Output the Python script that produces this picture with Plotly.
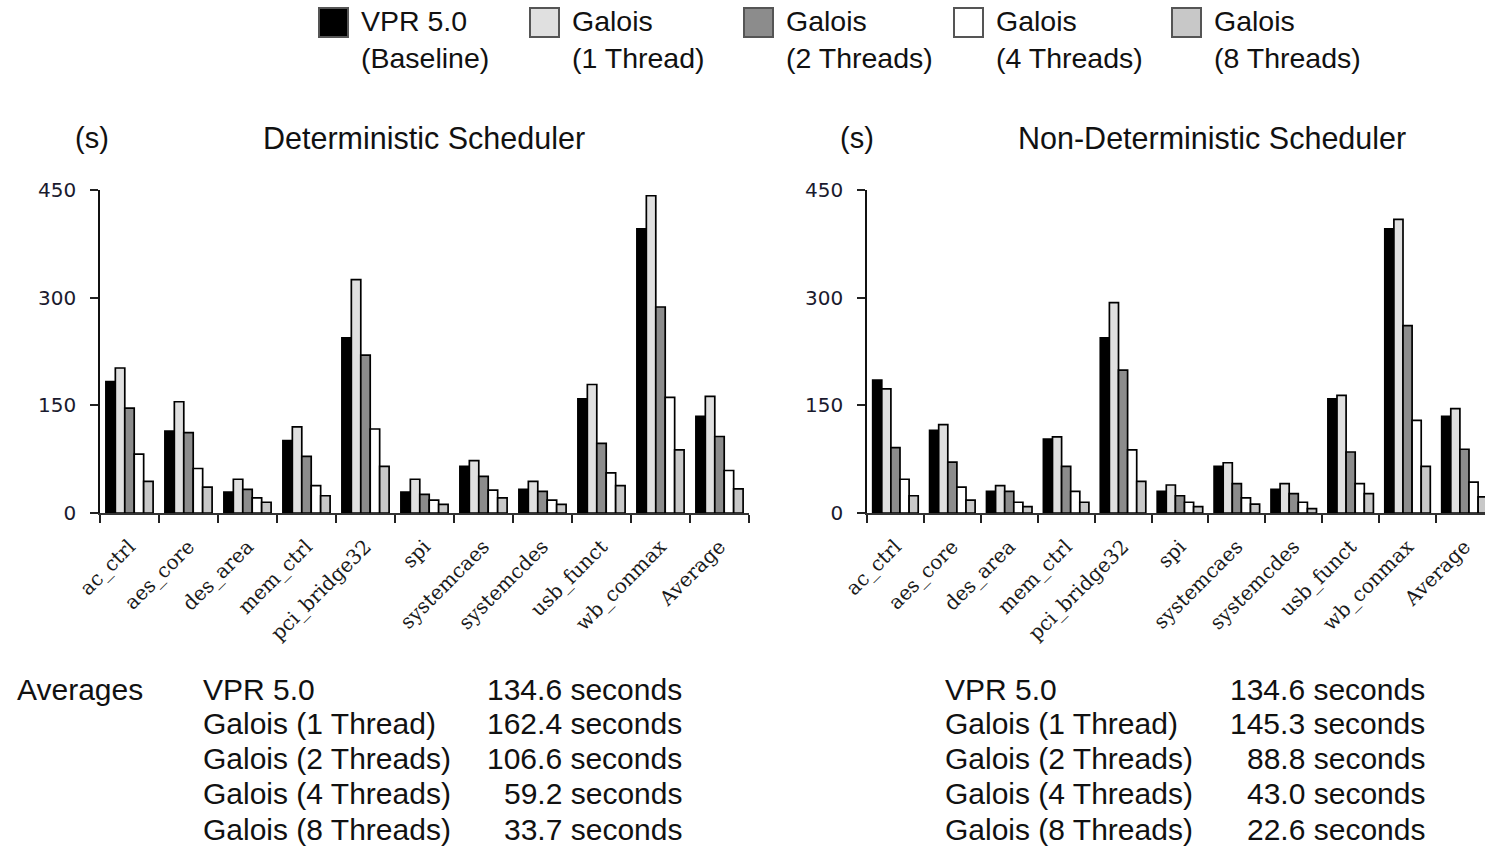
import plotly.graph_objects as go

W, H = 1485, 846

categories = ["ac_ctrl", "aes_core", "des_area", "mem_ctrl", "pci_bridge32", "spi",
              "systemcaes", "systemcdes", "usb_funct", "wb_conmax", "Average"]

series_names = ["VPR 5.0", "Galois (1 Thread)", "Galois (2 Threads)",
                "Galois (4 Threads)", "Galois (8 Threads)"]
legend_labels = ["VPR 5.0<br>(Baseline)", "Galois<br>(1 Thread)", "Galois<br>(2 Threads)",
                 "Galois<br>(4 Threads)", "Galois<br>(8 Threads)"]
colors = ["#000000", "#e0e0e0", "#8c8c8c", "#ffffff", "#c8c8c8"]

# Deterministic scheduler (seconds)
det_vpr = [183, 114, 29, 101, 244, 29, 65, 33, 159, 396, 134.6]
det_g1 = [202, 155, 47, 120, 325, 47, 73, 44, 179, 442, 162.4]
det_g2 = [146, 112, 33, 79, 220, 26, 51, 30, 97, 287, 106.6]
det_g4 = [82, 62, 21, 38, 117, 18, 32, 18, 56, 161, 59.2]
det_g8 = [44, 36, 15, 24, 65, 12, 21, 12, 38, 88, 33.7]

# Non-deterministic scheduler (seconds)
nd_vpr = [185, 115, 30, 103, 244, 30, 65, 33, 159, 396, 134.6]
nd_g1 = [173, 123, 38, 106, 293, 39, 70, 41, 164, 409, 145.3]
nd_g2 = [91, 71, 30, 65, 199, 24, 41, 27, 85, 261, 88.8]
nd_g4 = [47, 36, 15, 30, 88, 15, 21, 15, 41, 129, 43.0]
nd_g8 = [24, 18, 9, 15, 44, 9, 12.5, 6, 27, 65, 22.6]

avg_det = [134.6, 162.4, 106.6, 59.2, 33.7]
avg_nd = [134.6, 145.3, 88.8, 43.0, 22.6]

y_ticks = [0, 150, 300, 450]

det = [det_vpr, det_g1, det_g2, det_g4, det_g8]
nd = [nd_vpr, nd_g1, nd_g2, nd_g4, nd_g8]

def px_x(p):
    return p / W

def px_y(p):
    return 1 - p / H

fig = go.Figure()
for i in range(5):
    fig.add_trace(go.Bar(x=categories, y=det[i], name=series_names[i],
                         marker=dict(color=colors[i], line=dict(color="#000000", width=1.7)),
                         xaxis="x", yaxis="y", showlegend=False))
for i in range(5):
    fig.add_trace(go.Bar(x=categories, y=nd[i], name=series_names[i],
                         marker=dict(color=colors[i], line=dict(color="#000000", width=1.7)),
                         xaxis="x2", yaxis="y2", showlegend=False))

ydom = [px_y(513), px_y(190)]
left_x0, left_x1 = 100, 749
right_x0 = 867
cat_w_right = 56.9
right_range_end = -0.5 + (W - right_x0) / cat_w_right

xcommon = dict(type="category", showline=True, linecolor="#333333", linewidth=2,
               ticks="outside", ticklen=8, tickwidth=1.5, tickcolor="#222222",
               tickson="boundaries", tickangle=-45, showgrid=False, zeroline=False,
               automargin=False, ticklabelstandoff=12,
               tickfont=dict(family="DejaVu Serif", size=20, color="#1a1a1a"),
               ticklabelshift=0)
ycommon = dict(range=[0, 450], tickvals=y_ticks, showline=True, linecolor="#111111",
               linewidth=1.5, ticks="outside", ticklen=8, tickwidth=1.5, tickcolor="#222222",
               showgrid=False, zeroline=False, ticklabelstandoff=10, automargin=False,
               tickfont=dict(family="DejaVu Sans", size=20, color="#1a1a2e"))

fig.update_layout(
    width=W, height=H, margin=dict(l=0, r=0, t=0, b=0, autoexpand=False),
    paper_bgcolor="white", plot_bgcolor="white",
    barmode="group", bargap=0.2, bargroupgap=0,
    xaxis=dict(domain=[px_x(left_x0), px_x(left_x1)], anchor="y",
               range=[-0.5, 10.5], **xcommon),
    yaxis=dict(domain=ydom, anchor="x", **ycommon),
    xaxis2=dict(domain=[px_x(right_x0), 1.0], anchor="y2",
                range=[-0.5, right_range_end], **xcommon),
    yaxis2=dict(domain=ydom, anchor="x2", **ycommon),
)

font_main = "Liberation Sans, Arial, sans-serif"
shapes = []
annotations = []

# Manual legend
sw_x = [319, 530, 744, 954, 1172]
for i in range(5):
    shapes.append(dict(type="rect", xref="paper", yref="paper",
                       x0=px_x(sw_x[i]), x1=px_x(sw_x[i] + 29),
                       y0=px_y(37), y1=px_y(8),
                       fillcolor=colors[i], line=dict(color="#555555", width=2)))
    annotations.append(dict(xref="paper", yref="paper", x=px_x(sw_x[i] + 40), y=px_y(40),
                            xanchor="left", yanchor="middle", align="left", showarrow=False,
                            text=legend_labels[i],
                            font=dict(family=font_main, size=28.5, color="#111111")))

# Titles
annotations.append(dict(xref="paper", yref="paper", x=px_x(73), y=px_y(138),
                        xanchor="left", yanchor="middle", showarrow=False, text="(s)",
                        font=dict(family=font_main, size=29, color="#111111")))
annotations.append(dict(xref="paper", yref="paper", x=px_x(424), y=px_y(138),
                        xanchor="center", yanchor="middle", showarrow=False,
                        text="Deterministic Scheduler",
                        font=dict(family=font_main, size=30.5, color="#111111")))
annotations.append(dict(xref="paper", yref="paper", x=px_x(838), y=px_y(138),
                        xanchor="left", yanchor="middle", showarrow=False, text="(s)",
                        font=dict(family=font_main, size=29, color="#111111")))
annotations.append(dict(xref="paper", yref="paper", x=px_x(1212), y=px_y(138),
                        xanchor="center", yanchor="middle", showarrow=False,
                        text="Non-Deterministic Scheduler",
                        font=dict(family=font_main, size=30.5, color="#111111")))

# Averages block
rows_y = [689, 723, 758, 793, 829]
annotations.append(dict(xref="paper", yref="paper", x=px_x(15), y=px_y(rows_y[0]),
                        xanchor="left", yanchor="middle", showarrow=False, text="Averages",
                        font=dict(family=font_main, size=30, color="#111111")))
for i in range(5):
    for lab_x, val_x, vals in [(201, 684, avg_det), (943, 1427, avg_nd)]:
        annotations.append(dict(xref="paper", yref="paper", x=px_x(lab_x), y=px_y(rows_y[i]),
                                xanchor="left", yanchor="middle", showarrow=False,
                                text=series_names[i],
                                font=dict(family=font_main, size=30, color="#111111")))
        annotations.append(dict(xref="paper", yref="paper", x=px_x(val_x), y=px_y(rows_y[i]),
                                xanchor="right", yanchor="middle", showarrow=False,
                                text=f"{vals[i]:.1f} seconds",
                                font=dict(family=font_main, size=30, color="#111111")))

fig.update_layout(shapes=shapes, annotations=annotations)
fig.write_html("out.html")
